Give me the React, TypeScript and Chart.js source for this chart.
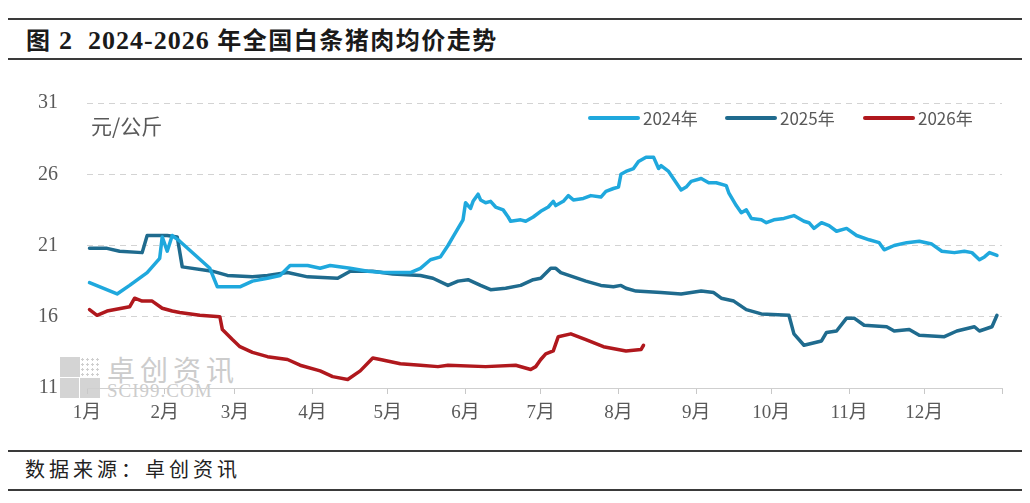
import { useEffect, useRef } from "react";
import { Chart, registerables } from "chart.js";

Chart.register(...registerables);

// x = day of year, month ticks at month starts
const monthStarts = [0, 31, 59, 90, 120, 151, 181, 212, 243, 273, 304, 334, 365];
const monthLabels = ["1月", "2月", "3月", "4月", "5月", "6月", "7月", "8月", "9月", "10月", "11月", "12月"];

const yTicks = [11, 16, 21, 26, 31];

const seriesNames = ["2024年", "2025年", "2026年"];
const seriesColors = ["#1fa8dd", "#1f6b8e", "#b0181d"];

const days2024 = [1, 12, 17, 24, 29, 30, 32, 34, 37, 49, 52, 61, 66, 72, 77, 81, 88, 93, 97, 105, 112, 118, 129, 133, 137, 141, 144, 146, 148, 150, 151, 153, 154, 156, 157, 159, 161, 163, 166, 168, 169, 173, 175, 178, 181, 184, 186, 187, 190, 192, 194, 198, 201, 205, 207, 210, 212, 213, 215, 218, 220, 223, 226, 228, 229, 232, 237, 239, 241, 245, 248, 251, 255, 256, 259, 261, 263, 265, 269, 271, 274, 278, 282, 286, 288, 290, 293, 296, 299, 303, 307, 312, 316, 318, 322, 327, 332, 337, 341, 346, 350, 353, 356, 358, 360, 363];
const price2024 = [18.4, 17.6, 18.2, 19.1, 20.1, 21.6, 20.6, 21.7, 21.3, 19.4, 18.1, 18.1, 18.5, 18.7, 18.9, 19.6, 19.6, 19.4, 19.6, 19.4, 19.2, 19.1, 19.1, 19.4, 20.0, 20.2, 21.0, 21.6, 22.2, 22.8, 24.0, 23.6, 24.1, 24.6, 24.2, 24.0, 24.1, 23.7, 23.5, 23.0, 22.7, 22.8, 22.7, 23.0, 23.4, 23.7, 24.1, 23.8, 24.1, 24.5, 24.2, 24.3, 24.5, 24.4, 24.8, 25.0, 25.1, 26.0, 26.2, 26.4, 26.9, 27.2, 27.2, 26.4, 26.6, 26.2, 24.9, 25.1, 25.5, 25.7, 25.4, 25.4, 25.2, 24.7, 23.8, 23.3, 23.5, 22.9, 22.8, 22.6, 22.8, 22.9, 23.1, 22.7, 22.6, 22.2, 22.6, 22.4, 22.0, 22.2, 21.7, 21.4, 21.2, 20.7, 21.0, 21.2, 21.3, 21.1, 20.6, 20.5, 20.6, 20.5, 20.0, 20.2, 20.5, 20.3];

const days2025 = [1, 8, 13, 22, 24, 32, 36, 38, 50, 56, 66, 72, 80, 88, 100, 105, 114, 122, 133, 138, 144, 148, 152, 157, 161, 167, 173, 178, 181, 185, 187, 189, 194, 199, 205, 210, 213, 215, 219, 229, 237, 245, 250, 253, 258, 263, 269, 280, 282, 286, 293, 295, 299, 303, 306, 310, 319, 322, 328, 332, 342, 347, 354, 356, 361, 363];
const price2025 = [20.8, 20.8, 20.6, 20.5, 21.7, 21.7, 21.6, 19.5, 19.2, 18.9, 18.8, 18.9, 19.1, 18.8, 18.7, 19.2, 19.2, 19.0, 18.9, 18.7, 18.2, 18.5, 18.6, 18.2, 17.9, 18.0, 18.2, 18.6, 18.7, 19.4, 19.4, 19.1, 18.8, 18.5, 18.2, 18.1, 18.2, 18.0, 17.8, 17.7, 17.6, 17.8, 17.7, 17.3, 17.1, 16.5, 16.2, 16.1, 14.8, 14.0, 14.3, 14.9, 15.0, 15.9, 15.9, 15.4, 15.3, 15.0, 15.1, 14.7, 14.6, 15.0, 15.3, 15.0, 15.3, 16.1];

const days2026 = [1, 4, 8, 17, 19, 22, 26, 30, 34, 37, 45, 53, 54, 58, 61, 66, 72, 80, 85, 93, 98, 104, 109, 114, 117, 125, 133, 140, 144, 159, 171, 177, 179, 181, 183, 186, 188, 193, 199, 206, 215, 221, 222];
const price2026 = [16.5, 16.1, 16.4, 16.7, 17.3, 17.1, 17.1, 16.6, 16.4, 16.3, 16.1, 16.0, 15.1, 14.4, 13.9, 13.5, 13.2, 13.0, 12.6, 12.2, 11.8, 11.6, 12.2, 13.1, 13.0, 12.7, 12.6, 12.5, 12.6, 12.5, 12.6, 12.3, 12.5, 13.0, 13.4, 13.6, 14.6, 14.8, 14.4, 13.9, 13.6, 13.7, 14.0];

const allDays = [days2024, days2025, days2026];
const allPrices = [price2024, price2025, price2026];

const PriceChart = () => {
  const chartRef = useRef<HTMLCanvasElement>(null);
  const chartInstance = useRef<Chart | null>(null);

  useEffect(() => {
    if (!chartRef.current) return;
    if (chartInstance.current) chartInstance.current.destroy();
    const ctx = chartRef.current.getContext("2d");
    if (!ctx) return;

    chartInstance.current = new Chart(ctx, {
      type: "line",
      data: {
        datasets: seriesNames.map((name, i) => ({
          label: name,
          data: allDays[i].map((d, j) => ({ x: d, y: allPrices[i][j] })),
          borderColor: seriesColors[i],
          backgroundColor: seriesColors[i],
          borderWidth: 3.5,
          pointRadius: 0,
          tension: 0,
          borderJoinStyle: "round" as const,
          borderCapStyle: "round" as const,
        })),
      },
      options: {
        animation: false,
        responsive: false,
        layout: { padding: { top: 41, right: 28, left: 0, bottom: 0 } },
        plugins: {
          legend: { display: false },
          tooltip: { enabled: false },
        },
        scales: {
          x: {
            type: "linear",
            min: 0,
            max: 365,
            afterBuildTicks: (scale: any) => {
              scale.ticks = monthStarts.map((v) => ({ value: v }));
            },
            afterFit: (scale: any) => {
              scale.height = 60;
            },
            ticks: {
              autoSkip: false,
              maxRotation: 0,
              padding: 8,
              color: "#595959",
              font: { family: "'Liberation Serif', 'Noto Sans CJK SC'", size: 19 },
              callback: (_v: any, i: number) => monthLabels[i] ?? "",
            },
            grid: {
              display: true,
              drawOnChartArea: false,
              drawTicks: true,
              tickLength: 6,
              color: "#c8c8c8",
            },
            border: { display: true, color: "#cfcfcf", width: 1 },
          },
          y: {
            min: 11,
            max: 31,
            afterBuildTicks: (scale: any) => {
              scale.ticks = yTicks.map((v) => ({ value: v }));
            },
            afterFit: (scale: any) => {
              scale.width = 79;
            },
            ticks: {
              padding: 29,
              color: "#595959",
              font: { family: "'Liberation Serif'", size: 20 },
            },
            grid: {
              drawTicks: false,
              color: (c: any) => (c.tick && c.tick.value === 11 ? "rgba(0,0,0,0)" : "#d3d3d3"),
            },
            border: { display: false, dash: [6, 5] },
          },
        },
      },
    });

    return () => {
      if (chartInstance.current) {
        chartInstance.current.destroy();
        chartInstance.current = null;
      }
    };
  }, []);

  return <canvas ref={chartRef} width={1022} height={386} style={{ position: "absolute", left: 0, top: 54 }} />;
};

const rule = (top: number) => (
  <div style={{ position: "absolute", left: 0, top, width: 1022, height: 2, background: "#3a3a3a" }} />
);

export default function App() {
  const cjk = "'Noto Sans CJK SC', sans-serif";
  return (
    <div style={{ position: "relative", width: 1022, height: 487, overflow: "hidden", background: "#fff" }}>
      {rule(10)}
      <div
        style={{
          position: "absolute",
          left: 18,
          top: 17,
          fontFamily: "'Liberation Serif', 'Noto Sans CJK SC'",
          fontWeight: 700,
          fontSize: 24,
          letterSpacing: 1.5,
          color: "#1a1a1a",
          whiteSpace: "pre",
          lineHeight: "32px",
        }}
      >
        图<span style={{ fontSize: 26, letterSpacing: 1 }}> 2  2024-2026 </span>年全国白条猪肉均价走势
      </div>
      {rule(50)}

      {/* watermark */}
      <div style={{ position: "absolute", left: 52, top: 349, width: 20, height: 20, background: "#d4d4d4" }} />
      <div style={{ position: "absolute", left: 72, top: 349, width: 20, height: 20, backgroundImage: "radial-gradient(#cfcfcf 35%, transparent 40%)", backgroundSize: "5px 5px" }} />
      <div style={{ position: "absolute", left: 52, top: 370, width: 19, height: 20, background: "#d4d4d4" }} />
      <div style={{ position: "absolute", left: 72, top: 370, width: 20, height: 20, background: "#d4d4d4" }} />
      <div style={{ position: "absolute", left: 99, top: 344, fontFamily: cjk, fontSize: 28, letterSpacing: 5, color: "#cccccc", lineHeight: "34px" }}>
        卓创资讯
      </div>
      <div style={{ position: "absolute", left: 99, top: 372, fontFamily: "'Liberation Serif'", fontSize: 19, letterSpacing: 1, color: "#cccccc", lineHeight: "22px" }}>
        SCI99.COM
      </div>

      <PriceChart />

      <div style={{ position: "absolute", left: 83, top: 103, fontFamily: cjk, fontSize: 21, color: "#595959", lineHeight: "28px" }}>
        元/公斤
      </div>

      {seriesNames.map((name, i) => (
        <div
          key={name}
          style={{
            position: "absolute",
            left: [580, 717, 855][i],
            top: 98,
            display: "flex",
            alignItems: "center",
            fontFamily: cjk,
            fontSize: 17,
            color: "#595959",
            lineHeight: "24px",
          }}
        >
          <span style={{ display: "inline-block", width: 52, height: 4, borderRadius: 2, background: seriesColors[i], marginRight: 3 }} />
          {name}
        </div>
      ))}

      {rule(442)}
      <div style={{ position: "absolute", left: 17, top: 447, fontFamily: cjk, fontSize: 20, letterSpacing: 4, color: "#222", lineHeight: "28px" }}>
        数据来源：卓创资讯
      </div>
      {rule(481)}
    </div>
  );
}
